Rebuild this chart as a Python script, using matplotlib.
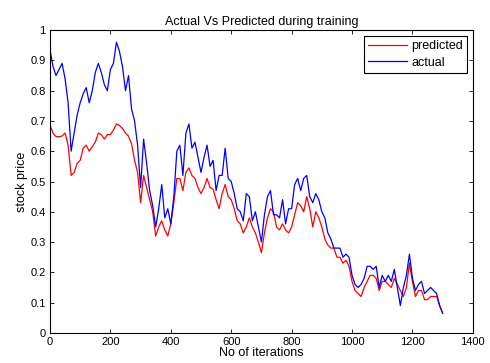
import numpy as np
import matplotlib
matplotlib.use("Agg")
import matplotlib.pyplot as plt

iterations = np.arange(0, 1301, 10)

actual = [0.935, 0.88, 0.85, 0.87, 0.89, 0.84, 0.76, 0.60, 0.66, 0.72,
          0.76, 0.79, 0.81, 0.76, 0.80, 0.86, 0.89, 0.86, 0.82, 0.80,
          0.87, 0.89, 0.96, 0.93, 0.88, 0.80, 0.85, 0.74, 0.70, 0.62,
          0.48, 0.64, 0.56, 0.47, 0.42, 0.35, 0.41, 0.49, 0.38, 0.41,
          0.36, 0.45, 0.60, 0.62, 0.52, 0.66, 0.69, 0.61, 0.63, 0.58,
          0.53, 0.58, 0.62, 0.55, 0.57, 0.47, 0.52, 0.52, 0.61, 0.51,
          0.50, 0.46, 0.41, 0.40, 0.37, 0.46, 0.45, 0.37, 0.40, 0.35,
          0.30, 0.39, 0.45, 0.47, 0.39, 0.39, 0.38, 0.44, 0.36, 0.41,
          0.41, 0.49, 0.51, 0.47, 0.51, 0.52, 0.45, 0.43, 0.46, 0.44,
          0.40, 0.38, 0.33, 0.31, 0.28, 0.28, 0.28, 0.25, 0.26, 0.25,
          0.19, 0.16, 0.15, 0.16, 0.18, 0.22, 0.22, 0.21, 0.22, 0.15,
          0.19, 0.17, 0.19, 0.17, 0.21, 0.15, 0.09, 0.15, 0.19, 0.26,
          0.18, 0.14, 0.16, 0.17, 0.13, 0.14, 0.15, 0.14, 0.13, 0.09,
          0.065]

predicted = [0.687, 0.66, 0.648, 0.648, 0.65, 0.66, 0.62, 0.52, 0.53, 0.56,
             0.57, 0.61, 0.62, 0.60, 0.615, 0.63, 0.66, 0.655, 0.64, 0.655,
             0.655, 0.67, 0.69, 0.685, 0.675, 0.66, 0.65, 0.625, 0.57, 0.53,
             0.43, 0.52, 0.48, 0.44, 0.40, 0.32, 0.35, 0.37, 0.34, 0.32,
             0.36, 0.43, 0.51, 0.51, 0.47, 0.53, 0.545, 0.52, 0.51, 0.48,
             0.46, 0.48, 0.51, 0.48, 0.475, 0.44, 0.41, 0.46, 0.49, 0.45,
             0.44, 0.41, 0.37, 0.36, 0.33, 0.35, 0.38, 0.35, 0.33, 0.30,
             0.265, 0.33, 0.38, 0.41, 0.40, 0.35, 0.34, 0.36, 0.34, 0.33,
             0.35, 0.39, 0.43, 0.42, 0.40, 0.45, 0.41, 0.35, 0.40, 0.38,
             0.35, 0.31, 0.29, 0.28, 0.28, 0.25, 0.25, 0.23, 0.24, 0.22,
             0.17, 0.14, 0.13, 0.12, 0.15, 0.17, 0.19, 0.19, 0.18, 0.14,
             0.17, 0.17, 0.16, 0.15, 0.18, 0.16, 0.14, 0.12, 0.15, 0.23,
             0.17, 0.12, 0.14, 0.14, 0.11, 0.11, 0.12, 0.12, 0.12, 0.09,
             0.065]

plt.rcParams["font.family"] = ["Liberation Sans", "DejaVu Sans"]
plt.rcParams["font.size"] = 8

fig = plt.figure(figsize=(4.9, 3.63), dpi=100)
ax = fig.add_axes([0.102, 0.083, 0.863, 0.834])
ax.plot(iterations, predicted, color="red", lw=0.9, label="predicted")
ax.plot(iterations, actual, color="blue", lw=0.9, label="actual")
ax.set_xlim(0, 1400)
ax.set_ylim(0, 1)
ax.set_xticks(np.arange(0, 1401, 200))
ax.set_yticks(np.arange(0, 1.01, 0.1))
ax.set_yticklabels(["0", "0.1", "0.2", "0.3", "0.4", "0.5", "0.6", "0.7", "0.8", "0.9", "1"])
ax.tick_params(direction="in", top=True, right=True, length=3, width=0.6, pad=3, labelsize=8)
for s in ax.spines.values():
    s.set_linewidth(0.8)
ax.set_title("Actual Vs Predicted during training", fontsize=9, pad=4)
ax.set_xlabel("No of iterations", fontsize=9, labelpad=0)
ax.set_ylabel("stock price", fontsize=9, labelpad=2)
leg = ax.legend(loc="upper right", fancybox=False, edgecolor="black", framealpha=1,
                fontsize=9, handlelength=3.1, handletextpad=0.35,
                borderaxespad=0.45, borderpad=0.35, labelspacing=0.35)
leg.get_frame().set_linewidth(0.8)
fig.savefig("out.png", dpi=100)
